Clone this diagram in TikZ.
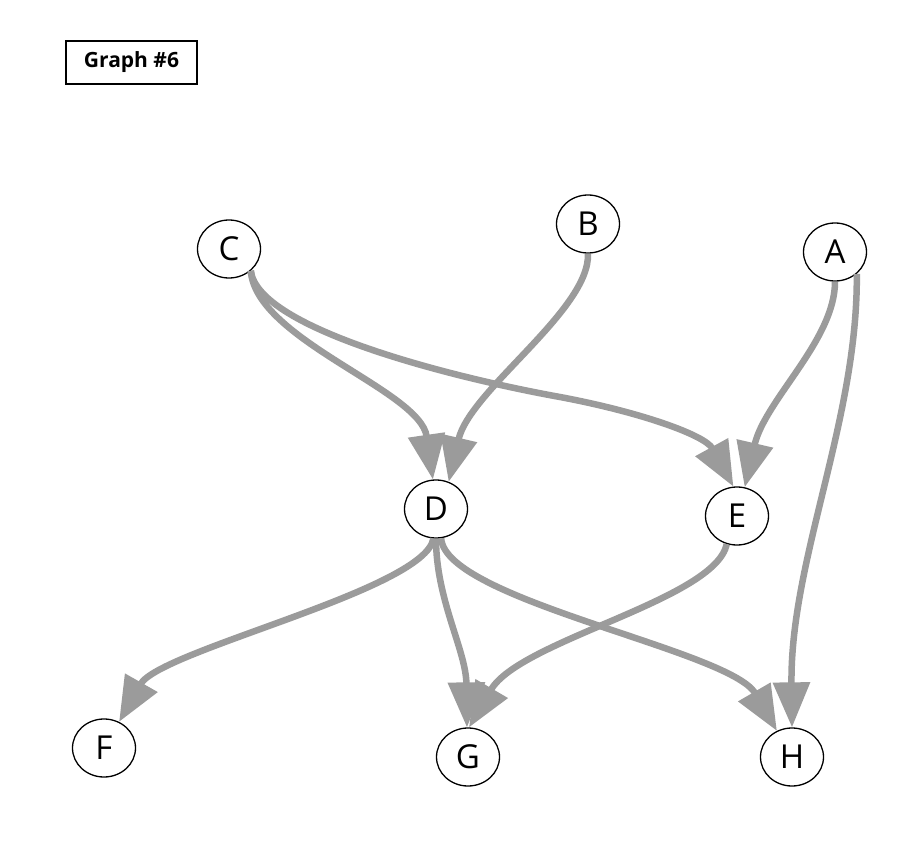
\documentclass[tikz,border=0pt]{standalone}
\usepackage{fontspec}
\setmainfont{Open Sans}
\usetikzlibrary{arrows.meta,shapes.geometric}
\definecolor{edgegray}{RGB}{155,155,155}
\begin{document}
\begin{tikzpicture}[x=1pt,y=-1pt,
  vertex/.style={draw=black, line width=1.3pt, fill=white, ellipse,
    minimum width=63pt, minimum height=58pt, inner sep=0pt,
    font=\fontsize{33}{38}\selectfont},
  link/.style={draw=edgegray, line width=6.5pt,
    -{Triangle[length=45pt,width=36pt]}},
  titlebox/.style={draw=black, line width=1.2pt, minimum width=131pt,
    minimum height=43pt, inner sep=0pt,
    font=\bfseries\fontsize{21}{25}\selectfont}
  ]
\useasboundingbox (0,0) rectangle (922,856);

% caption
\node[titlebox] (title) at (131.5,62.5) {Graph \#6};

% vertices
\node[vertex] (C) at (229,249) {C};
\node[vertex] (B) at (588,224) {B};
\node[vertex] (A) at (835,252) {A};
\node[vertex] (D) at (436,509) {D};
\node[vertex] (E) at (737,516) {E};
\node[vertex] (F) at (104,748) {F};
\node[vertex] (G) at (468,757) {G};
\node[vertex] (H) at (792,757) {H};

% edges
\draw[link] (C.-45) .. controls (256,340) and (420,390) .. (D.96);
\draw[link] (C.-45) .. controls (258,330) and (460,379) .. (560,397)
                    .. controls (640,412) and (705,435) .. (E.97);
\draw[link] (B.-90) .. controls (590,310) and (470,390) .. (D.65);
\draw[link] (A.-90) .. controls (835,340) and (765,400) .. (E.75);
\draw[link] (A.-45) .. controls (858,420) and (790,560) .. (H.90);
\draw[link] (D.-95) .. controls (425,590) and (160,650) .. (F.60);
\draw[link] (D.-90) .. controls (436,600) and (466,650) .. (G.92);
\draw[link] (D.-80) .. controls (445,600) and (730,650) .. (H.120);
\draw[link] (E.-110) .. controls (715,600) and (520,640) .. (G.88);
\end{tikzpicture}
\end{document}
